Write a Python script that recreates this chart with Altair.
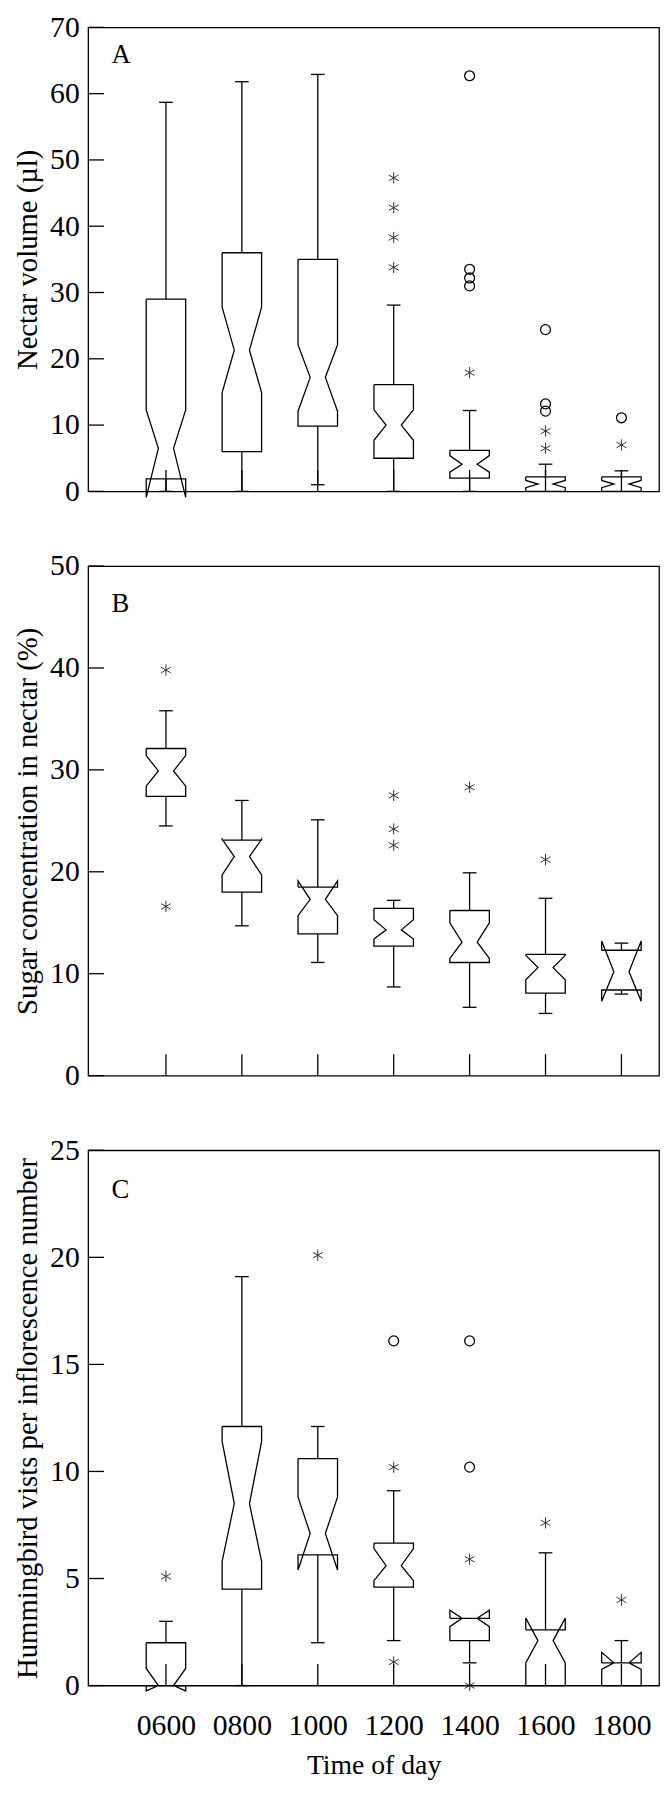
import altair as alt
import pandas as pd

times = ["0600", "0800", "1000", "1200", "1400", "1600", "1800"]

# ---------- Panel A: nectar volume (µl) ----------
a_q1 = [1.9, 6.0, 9.85, 5.0, 2.0, 0.0, 0.0]
a_q3 = [29.0, 36.0, 35.0, 16.1, 6.2, 2.2, 2.2]
a_med = [6.5, 21.3, 17.2, 10.0, 4.1, 1.1, 1.1]
a_nlo = [-0.9, 14.9, 12.1, 7.7, 2.9, 0.55, 0.55]
a_nhi = [12.3, 27.8, 22.1, 12.3, 5.4, 1.65, 1.65]
a_wlo = [0.0, 0.0, 1.0, 0.0, 0.0, 0.0, 0.0]
a_whi = [58.7, 61.8, 62.9, 28.1, 12.2, 4.1, 3.1]
a_star_t = ["1200", "1200", "1200", "1200", "1400", "1600", "1600", "1800"]
a_star_v = [47.3, 42.8, 38.3, 33.8, 17.9, 6.5, 9.1, 7.0]
a_circ_t = ["1400", "1400", "1400", "1400", "1600", "1600", "1600", "1800"]
a_circ_v = [62.7, 33.5, 32.2, 31.0, 24.4, 13.2, 12.1, 11.1]
a_ticks = [0, 10, 20, 30, 40, 50, 60, 70]

# ---------- Panel B: sugar concentration (%) ----------
b_q1 = [27.4, 18.0, 13.9, 12.7, 11.1, 8.1, 8.4]
b_q3 = [32.1, 23.1, 18.5, 16.4, 16.2, 11.9, 12.3]
b_med = [29.9, 21.5, 17.3, 14.3, 13.1, 10.6, 10.2]
b_nlo = [28.4, 19.7, 15.7, 13.4, 11.5, 9.4, 7.3]
b_nhi = [31.4, 23.2, 19.1, 15.3, 15.0, 11.8, 13.2]
b_wlo = [24.5, 14.7, 11.1, 8.7, 6.7, 6.1, 8.0]
b_whi = [35.8, 27.0, 25.1, 17.2, 19.9, 17.4, 13.0]
b_star_t = ["0600", "0600", "1200", "1200", "1200", "1400", "1600"]
b_star_v = [39.8, 16.6, 27.5, 24.2, 22.6, 28.3, 21.2]
b_circ_t = []
b_circ_v = []
b_ticks = [0, 10, 20, 30, 40, 50]

# ---------- Panel C: hummingbird visits ----------
c_q1 = [0.0, 4.5, 6.1, 4.6, 2.1, 0.0, 0.0]
c_q3 = [2.0, 12.1, 10.6, 6.65, 3.14, 2.6, 1.06]
c_med = [0.0, 8.5, 7.1, 5.6, 3.14, 2.1, 1.06]
c_nlo = [-0.25, 5.8, 5.4, 4.9, 2.75, 1.06, 0.75]
c_nhi = [0.8, 11.4, 8.8, 6.4, 3.52, 3.15, 1.55]
c_wlo = [0.0, 0.0, 2.0, 2.1, 1.06, 0.0, 0.0]
c_whi = [3.0, 19.1, 12.1, 9.1, 3.14, 6.2, 2.1]
c_star_t = ["0600", "1000", "1200", "1200", "1400", "1400", "1600", "1800"]
c_star_v = [5.1, 20.1, 10.2, 1.1, 5.9, 0.0, 7.6, 4.0]
c_circ_t = ["1200", "1400", "1400"]
c_circ_v = [16.1, 16.1, 10.2]
c_ticks = [0, 5, 10, 15, 20, 25]

# ---------- styling constants ----------
FONT = "Liberation Serif"
HW = 0.26      # half box width (x units)
NW = 0.10      # half width at the notch waist
CW = 0.09      # half width of whisker caps
XDOM = [-1.025, 6.495]
WIDTH = 577
STAR = "M0,-1L0,1M-0.87,-0.5L0.87,0.5M-0.87,0.5L0.87,-0.5"
LW = 1.3
LABEL_FS = 30
YTITLE_FS = 29

xscale = alt.Scale(domain=XDOM, nice=False, zero=False)


def panel(stats, star_t, star_v, circ_t, circ_v, ticks, ymax, title, letter,
          height, letter_y, bottom=False):
    q1, q3, med, nlo, nhi, wlo, whi = stats
    yscale = alt.Scale(domain=[0, ymax], nice=False, zero=True)
    rows = []
    for i in range(len(times)):
        dxs = [-HW, -HW, -NW, -HW, -HW, HW, HW, NW, HW, HW, -HW]
        ys = [q3[i], nhi[i], med[i], nlo[i], q1[i], q1[i], nlo[i], med[i], nhi[i], q3[i], q3[i]]
        for k, (dx, yv) in enumerate(zip(dxs, ys)):
            rows.append(dict(box=i, k=k, x=i + dx, y=yv))
    boxdf = pd.DataFrame(rows)

    wrows, crows = [], []
    for i in range(len(times)):
        if whi[i] > q3[i]:
            wrows.append(dict(x=i, y=q3[i], y2=whi[i]))
            crows.append(dict(x=i - CW, x2=i + CW, y=whi[i]))
        if wlo[i] < q1[i]:
            wrows.append(dict(x=i, y=q1[i], y2=wlo[i]))
            crows.append(dict(x=i - CW, x2=i + CW, y=wlo[i]))
    wdf = pd.DataFrame(wrows)
    cdf = pd.DataFrame(crows)

    sdf = pd.DataFrame(dict(x=[times.index(t) for t in star_t], y=star_v))
    odf = pd.DataFrame(dict(x=[times.index(t) for t in circ_t], y=circ_v), columns=["x", "y"])

    if bottom:
        label_expr = "[" + ",".join("'%s'" % t for t in times) + "][datum.value]"
        xaxis = alt.Axis(values=list(range(len(times))), labelExpr=label_expr,
                         ticks=False, tickSize=0, domain=False, grid=False,
                         labelPadding=25, labelFontSize=LABEL_FS, labelFont=FONT,
                         labelColor="black", labelFlush=False,
                         title="Time of day", titleFont=FONT, titleFontSize=28,
                         titleFontWeight="normal", titlePadding=12, titleColor="black")
    else:
        xaxis = None

    yaxis = alt.Axis(values=ticks, ticks=False, tickSize=0, domain=False, grid=False,
                     labelPadding=9, labelFontSize=LABEL_FS, labelFont=FONT, labelColor="black",
                     labelFlush=False, labelOverlap=False,
                     title=title, titleFont=FONT, titleFontSize=YTITLE_FS,
                     titleFontWeight="normal", titlePadding=7, titleColor="black")

    def X(f):
        return alt.X(f, scale=xscale, axis=xaxis)

    def Y(f):
        return alt.Y(f, scale=yscale, axis=yaxis)

    boxes = alt.Chart(boxdf).mark_line(color="black", strokeWidth=LW).encode(
        x=X("x:Q"), y=Y("y:Q"), detail="box:N", order="k:Q",
    )
    whisk = alt.Chart(wdf).mark_rule(color="black", strokeWidth=LW).encode(
        x=X("x:Q"), y=Y("y:Q"), y2="y2:Q",
    )
    caps = alt.Chart(cdf).mark_rule(color="black", strokeWidth=LW).encode(
        x=X("x:Q"), x2="x2:Q", y=Y("y:Q"),
    )
    stars = alt.Chart(sdf).mark_point(shape=STAR, filled=False, color="#333333",
                                       strokeWidth=1.0, size=130, opacity=1).encode(
        x=X("x:Q"), y=Y("y:Q"),
    )
    circs = alt.Chart(odf).mark_point(shape="circle", filled=False, color="black",
                                       strokeWidth=1.3, size=100, opacity=1).encode(
        x=X("x:Q"), y=Y("y:Q"),
    )
    ytk = alt.Chart(pd.DataFrame(dict(v=ticks))).mark_rule(color="black", strokeWidth=LW).encode(
        y=Y("v:Q"), x=alt.value(0), x2=alt.value(16),
    )
    xtk = alt.Chart(pd.DataFrame(dict(i=list(range(len(times)))))).mark_rule(
        color="black", strokeWidth=LW).encode(
        x=X("i:Q"), y=alt.value(height), y2=alt.value(height - 21.7),
    )
    let = alt.Chart(pd.DataFrame(dict(t=[letter]))).mark_text(
        font=FONT, fontSize=27, align="left", baseline="alphabetic", color="black").encode(
        x=alt.value(23.7), y=alt.value(letter_y), text="t:N")

    layers = [boxes, whisk, caps, stars, ytk, xtk, let]
    if len(odf):
        layers.insert(4, circs)
    return alt.layer(*layers).properties(width=WIDTH, height=height)


pA = panel((a_q1, a_q3, a_med, a_nlo, a_nhi, a_wlo, a_whi), a_star_t, a_star_v,
           a_circ_t, a_circ_v, a_ticks, 70, "Nectar volume (µl)", "A", 469, 35.7)
pB = panel((b_q1, b_q3, b_med, b_nlo, b_nhi, b_wlo, b_whi), b_star_t, b_star_v,
           b_circ_t, b_circ_v, b_ticks, 50, "Sugar concentration in nectar (%)", "B", 515, 46.5)
pC = panel((c_q1, c_q3, c_med, c_nlo, c_nhi, c_wlo, c_whi), c_star_t, c_star_v,
           c_circ_t, c_circ_v, c_ticks, 25, "Hummingbird vists per inflorescence number", "C",
           541, 48.7, bottom=True)

chart = alt.vconcat(pA, pB, pC, spacing=75.5, bounds="flush").properties(
    padding={"left": 5, "top": -6, "right": 0, "bottom": 0},
).configure(font=FONT, background="white").configure_view(
    stroke="black", strokeWidth=LW
)

chart.save("out.html", embed_options={"renderer": "svg", "actions": False})
